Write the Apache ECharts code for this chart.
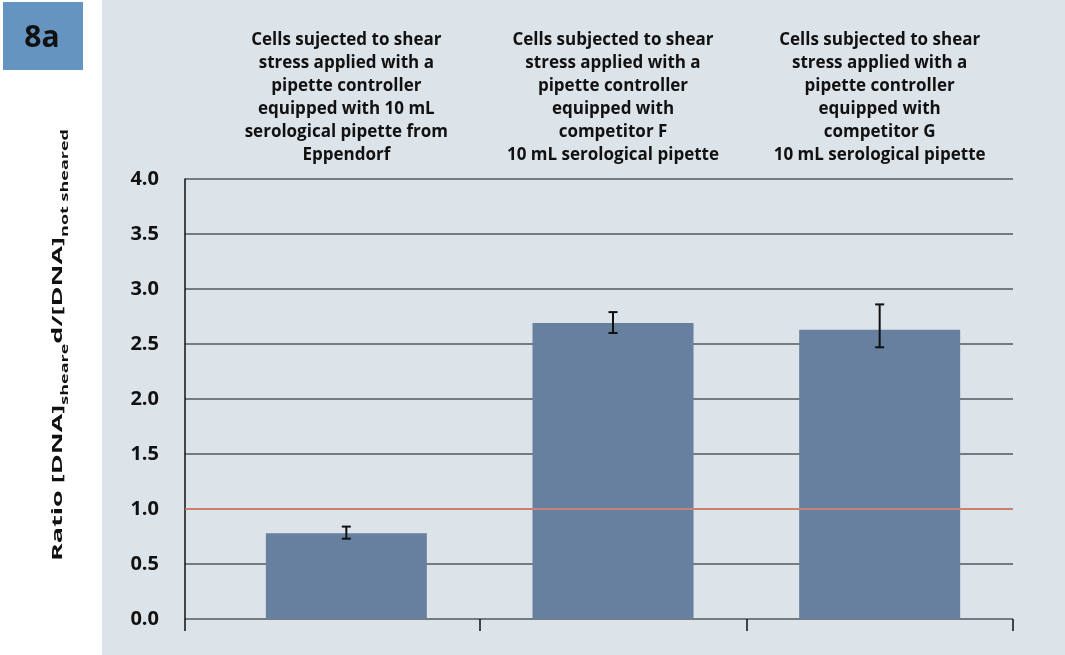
<!DOCTYPE html>
<html>
<head>
<meta charset="utf-8">
<script src="https://cdn.jsdelivr.net/npm/echarts@6/dist/echarts.min.js"></script>
<style>
  html, body { margin: 0; padding: 0; background: #ffffff; }
  #chart { width: 1065px; height: 655px; }
</style>
</head>
<body>
<div id="chart"></div>
<script>
// Categories shown above the plot (one label per bar)
const categories = [
  'Cells sujected to shear\nstress applied with a\npipette controller\nequipped with 10 mL\nserological pipette from\nEppendorf',
  'Cells subjected to shear\nstress applied with a\npipette controller\nequipped with\ncompetitor F\n10 mL serological pipette',
  'Cells subjected to shear\nstress applied with a\npipette controller\nequipped with\ncompetitor G\n10 mL serological pipette'
];
// Mean DNA ratio per condition
const ratio = [0.78, 2.69, 2.63];
// Error bar bounds
const errLow = [0.73, 2.60, 2.47];
const errHigh = [0.84, 2.79, 2.86];
// Reference ratio (no shear effect)
const refLevel = 1.0;
// Y axis range and step
const yMin = 0, yMax = 4, yStep = 0.5;

const FONT = '"Open Sans", "Noto Sans", sans-serif';
const chart = echarts.init(document.getElementById('chart'));

const gridTop = 179, gridBottom = 36, gridRight = 52;

chart.setOption({
  animation: false,
  backgroundColor: '#ffffff',
  graphic: [
    { type: 'rect', left: 102, top: 0, z: -10,
      shape: { width: 963, height: 655 }, style: { fill: '#dce3e9' } },
    { type: 'rect', left: 3, top: 2, z: 1,
      shape: { width: 80, height: 68 }, style: { fill: '#6694c1' } },
    { type: 'text', x: 42, y: 38, z: 2,
      style: { text: '8a', font: 'bold 30px ' + FONT, fill: '#111',
               align: 'center', verticalAlign: 'middle' } },
    // Y axis title, spaced out along its length
    { type: 'text', x: 58, y: 345, rotation: Math.PI / 2, scaleX: 1.8, z: 2,
      style: {
        text: '{m|Ratio [DNA]}{s|sheare}{m|d/[DNA]}{s|not sheared}',
        align: 'center', verticalAlign: 'middle',
        rich: {
          m: { font: 'bold 15px ' + FONT, fill: '#111', lineHeight: 24, verticalAlign: 'middle' },
          s: { font: 'bold 10px ' + FONT, fill: '#111', lineHeight: 24, verticalAlign: 'bottom' }
        }
      } }
  ],
  grid: [
    { left: 185, right: gridRight, top: gridTop, bottom: gridBottom },
    { left: 213, right: gridRight, top: gridTop, bottom: gridBottom }
  ],
  xAxis: [
    { type: 'category', gridIndex: 0, data: categories,
      axisLine: { show: false }, axisTick: { show: false }, axisLabel: { show: false } },
    { type: 'category', gridIndex: 1, position: 'top', data: categories,
      axisLine: { show: false }, axisTick: { show: false },
      axisLabel: { interval: 0, margin: 12, color: '#111',
                   fontFamily: FONT, fontWeight: 'bold', fontSize: 17, lineHeight: 23,
                   align: 'center' } },
    { type: 'category', gridIndex: 1, position: 'bottom', data: categories,
      axisLine: { show: false }, axisLabel: { show: false },
      axisTick: { show: true, length: 12, interval: function (i) { return i !== 0; },
                  lineStyle: { color: '#111', width: 1.5 } } },
    { type: 'category', gridIndex: 0, position: 'bottom', data: categories,
      axisLine: { show: false }, axisLabel: { show: false },
      axisTick: { show: true, length: 12, interval: function (i) { return i === 0; },
                  lineStyle: { color: '#111', width: 1.5 } } }
  ],
  yAxis: [
    { type: 'value', gridIndex: 0, min: yMin, max: yMax, interval: yStep,
      axisLine: { show: true, lineStyle: { color: '#111', width: 1.5 } },
      axisTick: { show: false },
      splitLine: { show: true, lineStyle: { color: '#55595c', width: 1.5 } },
      axisLabel: { margin: 26, color: '#111', fontFamily: FONT, fontWeight: 'bold', fontSize: 20,
                   formatter: v => v.toFixed(1) } },
    { type: 'value', gridIndex: 1, min: yMin, max: yMax, interval: yStep, show: false,
      splitLine: { show: false } }
  ],
  series: [
    { type: 'line', xAxisIndex: 0, yAxisIndex: 0, data: [], silent: true,
      markLine: { silent: true, symbol: 'none', label: { show: false },
                  lineStyle: { color: '#e8836b', width: 1.5, type: 'solid' },
                  data: [{ yAxis: refLevel }] } },
    { type: 'bar', xAxisIndex: 1, yAxisIndex: 1, data: ratio, barWidth: 161,
      itemStyle: { color: '#67809f' } },
    { type: 'custom', xAxisIndex: 1, yAxisIndex: 1, z: 5,
      data: ratio.map((_, i) => [i, errLow[i], errHigh[i]]),
      renderItem: function (params, api) {
        const lo = api.coord([api.value(0), api.value(1)]);
        const hi = api.coord([api.value(0), api.value(2)]);
        const hw = 4.5;
        const st = { stroke: '#111', lineWidth: 2 };
        return { type: 'group', children: [
          { type: 'line', shape: { x1: hi[0], y1: hi[1], x2: lo[0], y2: lo[1] }, style: st },
          { type: 'line', shape: { x1: hi[0] - hw, y1: hi[1], x2: hi[0] + hw, y2: hi[1] }, style: st },
          { type: 'line', shape: { x1: lo[0] - hw, y1: lo[1], x2: lo[0] + hw, y2: lo[1] }, style: st }
        ] };
      } }
  ]
});
</script>
</body>
</html>
